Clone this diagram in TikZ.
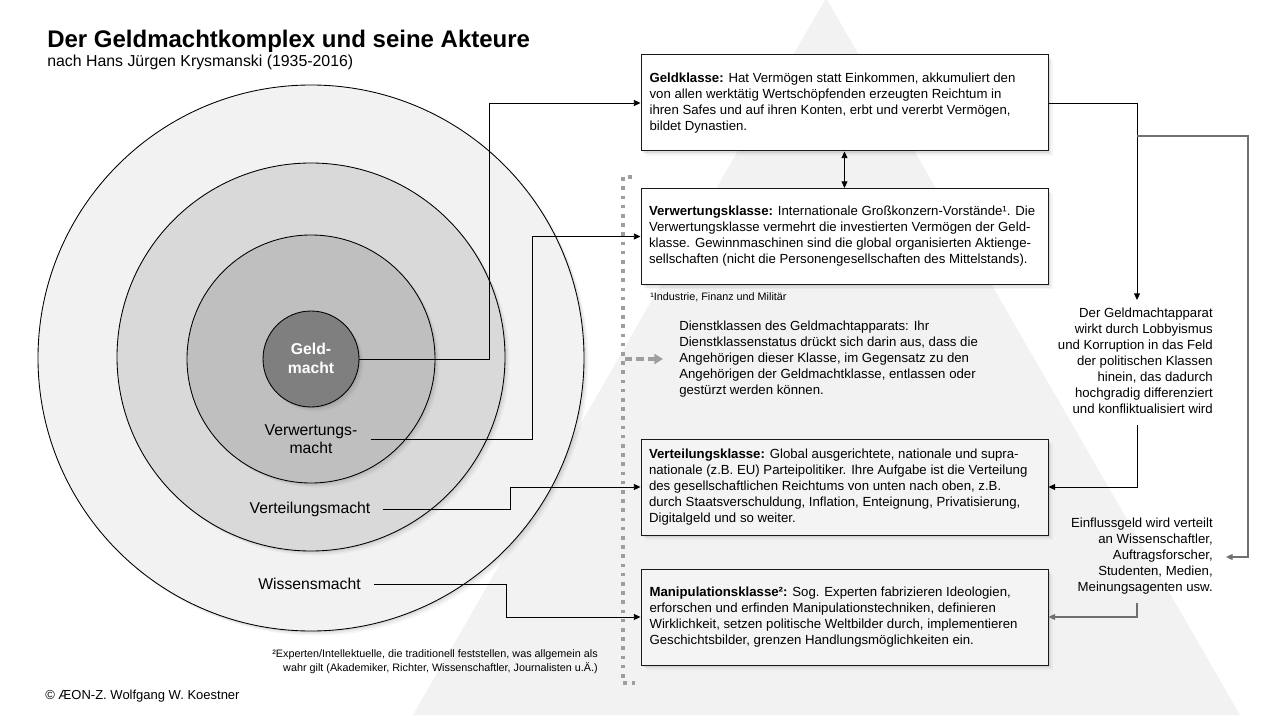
\documentclass[tikz,border=0pt]{standalone}
\usepackage{fontspec}
\setmainfont{Liberation Sans}
\usetikzlibrary{arrows.meta,calc}
\newlength\pxu \setlength\pxu{0.75pt}
\definecolor{tri}{HTML}{F2F2F2}
\definecolor{ringA}{HTML}{F2F2F2}
\definecolor{ringB}{HTML}{D9D9D9}
\definecolor{ringC}{HTML}{BFBFBF}
\definecolor{ringD}{HTML}{7F7F7F}
\definecolor{boxg}{HTML}{F4F4F4}
\definecolor{dotc}{HTML}{9E9E9E}
\definecolor{darkc}{HTML}{707070}
\begin{document}
\begin{tikzpicture}[x=0.75pt,y=-0.75pt,
 shad/.style={preaction={fill=black,fill opacity=.035,transform canvas={xshift=3.4pt,yshift=-3.4pt}},
   preaction={fill=black,fill opacity=.045,transform canvas={xshift=2.3pt,yshift=-2.3pt}},
   preaction={fill=black,fill opacity=.06,transform canvas={xshift=1.2pt,yshift=-1.2pt}}},
 ring/.style={circle,draw=black,line width=0.65pt,inner sep=0pt,shad},
 box/.style={rectangle,draw=black!90,line width=0.75pt,minimum width=407\pxu,minimum height=96\pxu,inner sep=0pt,shad},
 boxtxt/.style={anchor=west,align=left,inner sep=0pt,font=\fontsize{9.9pt}{12pt}\selectfont},
 side/.style={anchor=east,align=right,inner sep=0pt,font=\fontsize{9.9pt}{12pt}\selectfont},
 lab/.style={inner sep=0pt,align=center,font=\fontsize{11.8pt}{13.9pt}\selectfont},
 conn/.style={line width=0.65pt,-{Triangle[length=5pt,width=4.5pt]}},
 gconn/.style={line width=0.9pt,draw=darkc,-{Triangle[length=5pt,width=4.5pt]}},
 fnote/.style={inner sep=0pt,font=\fontsize{8.1pt}{10.5pt}\selectfont}
]
\fill[white] (0,0) rectangle (1280,720);
\useasboundingbox (0,0) rectangle (1280,720);
% background pyramid
\fill[tri] (826,-2) -- (1240,715) -- (413,715) -- cycle;

% title
\node[anchor=base west,inner sep=0pt,font=\bfseries\fontsize{18pt}{20pt}\selectfont] (title) at (47,48) {Der Geldmachtkomplex und seine Akteure};
\node[anchor=base west,inner sep=0pt,font=\fontsize{11.9pt}{14pt}\selectfont] (sub) at (47,66.5) {nach Hans Jürgen Krysmanski (1935-2016)};

% circles
\node[ring,fill=ringA,minimum size=546\pxu] (c1) at (311,358) {};
\node[ring,fill=ringB,minimum size=388\pxu] (c2) at (311,357) {};
\node[ring,fill=ringC,minimum size=248\pxu] (c3) at (311,359) {};
\node[ring,fill=ringD,minimum size=96\pxu] (geld) at (311,359) {};
\node[lab,text=white,font=\bfseries\fontsize{11.8pt}{14.2pt}\selectfont] (lgeld) at (311,358) {Geld-\\macht};
\node[lab] (lverw) at (311,439) {Verwertungs-\\macht};
\node[lab] (lvert) at (310,509) {Verteilungsmacht};
\node[lab] (lwiss) at (309.5,584) {Wissensmacht};

% boxes
\node[box,fill=white] (b1) at (844.5,103) {};
\node[box,fill=white] (b2) at (844.5,236.5) {};
\node[box,fill=boxg] (b3) at (844.5,487) {};
\node[box,fill=boxg] (b4) at (844.5,617) {};

\node[boxtxt] (t1) at ([xshift=6.6pt]b1.west) {\textbf{Geldklasse:} Hat Vermögen statt Einkommen, akkumuliert den\\
von allen werktätig Wertschöpfenden erzeugten Reichtum in\\
ihren Safes und auf ihren Konten, erbt und vererbt Vermögen,\\
bildet Dynastien.};
\node[boxtxt] (t2) at ([xshift=6.2pt]b2.west) {\textbf{Verwertungsklasse:} Internationale Großkonzern-Vorstände¹. Die\\
Verwertungsklasse vermehrt die investierten Vermögen der Geld-\\
klasse. Gewinnmaschinen sind die global organisierten Aktienge-\\
sellschaften (nicht die Personengesellschaften des Mittelstands).};
\node[boxtxt] (t3) at ([xshift=6.2pt]b3.west) {\textbf{Verteilungsklasse:} Global ausgerichtete, nationale und supra-\\
nationale (z.B. EU) Parteipolitiker. Ihre Aufgabe ist die Verteilung\\
des gesellschaftlichen Reichtums von unten nach oben, z.B.\\
durch Staatsverschuldung, Inflation, Enteignung, Privatisierung,\\
Digitalgeld und so weiter.};
\node[boxtxt] (t4) at ([xshift=6.6pt]b4.west) {\textbf{Manipulationsklasse²:} Sog. Experten fabrizieren Ideologien,\\
erforschen und erfinden Manipulationstechniken, definieren\\
Wirklichkeit, setzen politische Weltbilder durch, implementieren\\
Geschichtsbilder, grenzen Handlungsmöglichkeiten ein.};

\node[fnote,anchor=west] (fn1) at (650,297) {¹Industrie, Finanz und Militär};

\node[boxtxt] (dienst) at (679,359) {Dienstklassen des Geldmachtapparats: Ihr\\
Dienstklassenstatus drückt sich darin aus, dass die\\
Angehörigen dieser Klasse, im Gegensatz zu den\\
Angehörigen der Geldmachtklasse, entlassen oder\\
gestürzt werden können.};

% right side texts
\node[side] (r1) at (1213,361) {Der Geldmachtapparat\\wirkt durch Lobbyismus\\und Korruption in das Feld\\der politischen Klassen\\hinein, das dadurch\\hochgradig differenziert\\und konfliktualisiert wird};
\node[side] (r2) at (1213,556) {Einflussgeld wird verteilt\\an Wissenschaftler,\\Auftragsforscher,\\Studenten, Medien,\\Meinungsagenten usw.};

% footnote 2 and copyright
\node[fnote,anchor=east,align=right] (fn2) at (598,662) {²Experten/Intellektuelle, die traditionell feststellen, was allgemein als\\wahr gilt (Akademiker, Richter, Wissenschaftler, Journalisten u.Ä.)};
\node[anchor=base west,inner sep=0pt,font=\fontsize{9.75pt}{12pt}\selectfont] (copy) at (45,699) {© ÆON-Z. Wolfgang W. Koestner};

% dotted bracket
\coordinate (dt) at (632,177);
\coordinate (dtc) at (623,177);
\coordinate (dbc) at (623,683);
\coordinate (db) at (635,683);
\draw[dotc,line width=3.1pt,dash pattern=on 2.7pt off 4.2pt] (dt) -- (dtc) -- (dbc) -- (db);

% dashed arrow
\coordinate (dsrc) at (625,359);
\draw[dotc,line width=2.5pt,dash pattern=on 5.5pt off 3pt,-{Triangle[length=6.5pt,width=7.5pt]},shorten >=12pt] (dsrc) -- (dsrc -| dienst.west);

% left connectors
\draw[conn] (geld.east) -- ++(130,0) |- (b1.west);
\draw[conn] ([xshift=9.75pt]lverw.east) -- ++(162,0) |- (b2.west);
\draw[conn] ([xshift=9pt]lvert.east) -- ++(128,0) |- (b3.west);
\draw[conn] ([xshift=9.75pt]lwiss.east) -- ++(133,0) |- (b4.west);

% double arrow
\draw[line width=0.65pt,{Triangle[length=5pt,width=4.5pt]}-{Triangle[length=5pt,width=4.5pt]}] (b1.south) -- (b2.north);

% right connectors
\coordinate (ta) at (1137,300);
\coordinate (brs) at (1137,136);
\coordinate (brc) at (1248,136);
\coordinate (tb) at (1226,557);
\coordinate (r1b) at (1137,425);
\coordinate (r2b) at (1137,603);
\draw[conn] (b1.east) -| (ta);
\draw[gconn] (brs) -- (brc) |- (tb);
\draw[conn] (r1b) |- (b3.east);
\draw[gconn] (r2b) |- (b4.east);
\end{tikzpicture}
\end{document}
